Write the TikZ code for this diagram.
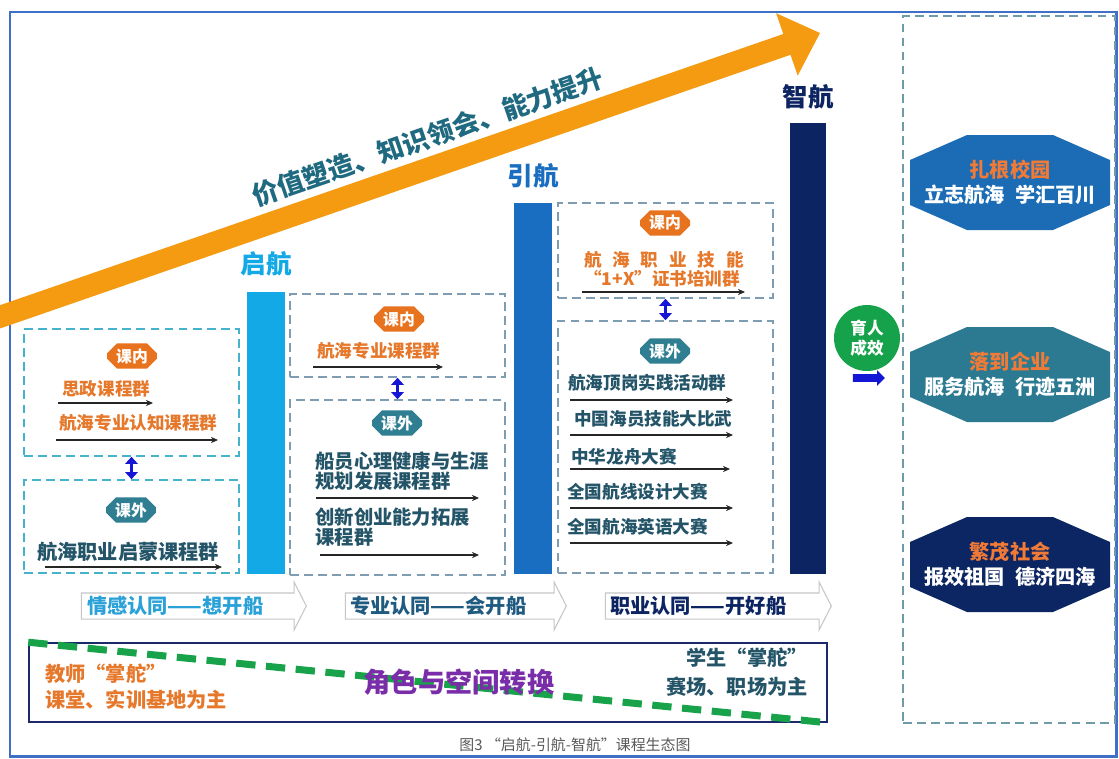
\documentclass[tikz,border=0pt]{standalone}
\usepackage{fontspec}
\setmainfont{Noto Sans CJK SC}
\usetikzlibrary{shapes.misc,shapes.arrows,fit,positioning,arrows.meta}

\definecolor{framblue}{HTML}{3F6FC6}
\definecolor{sailorange}{HTML}{F49B12}
\definecolor{tealtxt}{HTML}{1F6A80}
\definecolor{itemtxt}{HTML}{235468}
\definecolor{orangetxt}{HTML}{E5782B}
\definecolor{badgeor}{HTML}{E8731E}
\definecolor{badgeteal}{HTML}{2F7E92}
\definecolor{cyanbox}{HTML}{45B3CB}
\definecolor{graybox}{HTML}{7E9DB3}
\definecolor{panelbox}{HTML}{6F9AA8}
\definecolor{barone}{HTML}{12A9E6}
\definecolor{bartwo}{HTML}{1A6EC1}
\definecolor{barthree}{HTML}{0C2461}
\definecolor{navyline}{HTML}{1C2A6B}
\definecolor{dashgreen}{HTML}{18A34A}
\definecolor{rolepurple}{HTML}{7A2DA8}
\definecolor{octblue}{HTML}{1B6CB4}
\definecolor{octteal}{HTML}{2B7A92}
\definecolor{octnavy}{HTML}{0C2563}
\definecolor{octtitle}{HTML}{F07A36}
\definecolor{effgreen}{HTML}{16A24A}
\definecolor{pushblue}{HTML}{1515D6}
\definecolor{feeltxt}{HTML}{2AA2D8}
\definecolor{protxt}{HTML}{1F5A80}

\begin{document}
\begin{tikzpicture}[
  x=0.02cm, y=-0.02cm,
  every node/.style={inner sep=0pt, font=\bfseries},
  cbox/.style={draw=cyanbox, dash pattern=on 5pt off 3pt, line width=0.9pt},
  gbox/.style={draw=graybox, dash pattern=on 5pt off 3pt, line width=0.9pt},
  stagebar/.style={fill=#1, draw=none},
  stagelab/.style={font=\fontsize{14.5}{16}\selectfont\bfseries},
  badge/.style={chamfered rectangle, chamfered rectangle sep=0.1cm, minimum width=1cm,
    minimum height=0.44cm, fill=#1, text=white, font=\fontsize{9}{10}\selectfont\bfseries},
  item/.style={anchor=west, text=itemtxt, font=\fontsize{10}{12}\selectfont\bfseries},
  uline/.style={draw=black!85, line width=1pt, -{Stealth[length=4pt,width=3.5pt]}},
  twohead/.style={draw=pushblue, line width=2pt, {Triangle[length=4pt,width=7pt]}-{Triangle[length=4pt,width=7pt]}},
  stagearrow/.style={single arrow, draw=gray!45, fill=white, line width=0.6pt, inner ysep=0.25cm,
    inner xsep=0pt, single arrow head extend=0.22cm, single arrow tip angle=126, minimum height=#1},
  stagetxt/.style={anchor=west, font=\fontsize{11.5}{13}\selectfont\bfseries},
  octa/.style={fill=#1, draw=none},
  octlabel/.style={align=center, text=white, font=\fontsize{11.5}{14}\selectfont\bfseries}
]
\useasboundingbox (0,0) rectangle (1119,758);
\fill[white] (0,0) rectangle (1119,758);
\draw[framblue, line width=1.7pt] (10,12) rectangle (1116,756);

% rising arrow
\fill[sailorange] (-13.6,309.9) -- (783.3,34.0) -- (776.1,13.2) -- (820,33)
  -- (797.7,75.6) -- (790.5,54.8) -- (-6.4,330.7) -- cycle;
\node[rotate=19, text=tealtxt, font=\fontsize{15}{17}\selectfont\bfseries] (motto) at (428,137) {价值塑造、知识领会、能力提升};

% three stages
\node[stagebar=barone, fit={(247,292) (285,574)}] (qihang) {};
\node[stagebar=bartwo, fit={(514,203) (552,574)}] (yinhang) {};
\node[stagebar=barthree, fit={(790,123) (826,574)}] (zhihang) {};
\node[stagelab, text=barone, above=0.3cm of qihang] (qhlab) {启航};
\node[stagelab, text=bartwo, above=0.28cm of yinhang] (yhlab) {引航};
\node[stagelab, text=barthree, above=0.26cm of zhihang] (zhlab) {智航};

% stage 1
\node[cbox, fit={(24,329) (239,456)}] (inA) {};
\node[cbox, fit={(24,480) (239,573)}] (outA) {};
\draw[twohead] (inA.south) -- (outA.north);
\node[badge=badgeor] (inAb) at (132,356) {课内};
\node[item, text=orangetxt] (a1) at (62,389) {思政课程群};
\draw[uline] (58,403) -- (153,403);
\node[item, text=orangetxt] (a2) at (59,423) {航海专业认知课程群};
\draw[uline] (56,440) -- (218,440);
\node[badge=badgeteal] (outAb) at (131,510) {课外};
\node[item, font=\fontsize{11.5}{13}\selectfont\bfseries] (a3) at (37,552) {航海职业启蒙课程群};
\draw[uline] (45,567) -- (222,567);

% stage 2
\node[gbox, fit={(290,294) (505,377)}] (inB) {};
\node[gbox, fit={(290,400) (505,575)}] (outB) {};
\draw[twohead] (inB.south) -- (outB.north);
\node[badge=badgeor] (inBb) at (399,319) {课内};
\node[item, text=orangetxt] (b1) at (317,351) {航海专业课程群};
\draw[uline] (313,367) -- (443,367);
\node[badge=badgeteal] (outBb) at (397,423) {课外};
\node[item, align=left, font=\fontsize{11}{11.4}\selectfont\bfseries] (b2) at (315,471) {船员心理健康与生涯\\规划发展课程群};
\draw[uline] (316,498) -- (479,498);
\node[item, align=left, font=\fontsize{11}{11}\selectfont\bfseries] (b3) at (315,527) {创新创业能力拓展\\课程群};
\draw[uline] (320,555) -- (479,555);

% stage 3
\node[gbox, fit={(558,203) (773,298)}] (inC) {};
\node[gbox, fit={(558,321) (773,573)}] (outC) {};
\draw[twohead] (inC.south) -- (outC.north);
\node[badge=badgeor] (inCb) at (665,223) {课内};
\node[text=orangetxt, font=\fontsize{10}{12}\selectfont\bfseries] (c0) at (664,260)
  {\makebox[3.2cm][s]{航\hfil 海\hfil 职\hfil 业\hfil 技\hfil 能}};
\node[text=orangetxt, font=\fontsize{10}{12}\selectfont\bfseries] (c0b) at (662,279) {“1+X”证书培训群};
\draw[uline] (582,292) -- (745,292);
\node[badge=badgeteal] (outCb) at (665,351) {课外};
\node[item] (c1) at (568,383) {航海顶岗实践活动群};
\draw[uline] (570,400) -- (733,400);
\node[item] (c2) at (574,419) {中国海员技能大比武};
\draw[uline] (570,435) -- (733,435);
\node[item] (c3) at (571,457) {中华龙舟大赛};
\draw[uline] (570,469) -- (730,469);
\node[item] (c4) at (567,492) {全国航线设计大赛};
\draw[uline] (570,508) -- (733,508);
\node[item] (c5) at (567,527) {全国航海英语大赛};
\draw[uline] (570,543) -- (733,543);

% identity arrows
\node[stagearrow=4.5cm] (feel) at (190.5,606) {};
\node[stagetxt, text=feeltxt, right=0.12cm of feel.west] (feeltx) {情感认同——想开船};
\node[stagearrow=4.42cm] (pro) at (452.5,606) {};
\node[stagetxt, text=protxt, right=0.1cm of pro.west] (protx) {专业认同——会开船};
\node[stagearrow=4.52cm] (job) at (715,606) {};
\node[stagetxt, text=barthree, right=0.1cm of job.west] (jobtx) {职业认同——开好船};

% role change
\node[draw=navyline, line width=0.9pt, fit={(29,643) (827,722)}] (role) {};
\draw[dashgreen, line width=4pt, dash pattern=on 11pt off 6pt] (role.north west) -- (role.south east);
\node[anchor=west, align=left, text=orangetxt, font=\fontsize{11.5}{14.7}\selectfont\bfseries] (teacher) at (45,687) {教师“掌舵”\\课堂、实训基地为主};
\node[anchor=east, align=right, text=itemtxt, font=\fontsize{11.5}{16.4}\selectfont\bfseries] (student) at (808,672) {学生“掌舵”\\赛场、职场为主};
\node[text=rolepurple, font=\fontsize{15.5}{17}\selectfont\bfseries] (switch) at (459,682) {角色与空间转换};

% outcomes
\node[gbox, draw=panelbox, fit={(903,16) (1115,723)}] (panel) {};
\node[circle, fill=effgreen, minimum size=1.32cm, text=white, align=center,
  font=\fontsize{9.5}{11.5}\selectfont\bfseries] (eff) at (867,338) {育人\\成效};
\node[single arrow, fill=pushblue, inner ysep=0.07cm, inner xsep=0pt, single arrow head extend=0.08cm,
  minimum height=0.64cm] (push) at (867,378) {};
\fill[octa=octblue] (910,160) -- (967,135) -- (1053,135) -- (1110,160) -- (1110,205) -- (1053,230) -- (967,230) -- (910,205) -- cycle;
\node[octlabel] (campus) at (1010,182.5) {\textcolor{octtitle}{扎根校园}\\立志航海\hspace{0.5em}学汇百川};
\fill[octa=octteal] (910,352) -- (967,327) -- (1053,327) -- (1110,352) -- (1110,397) -- (1053,422) -- (967,422) -- (910,397) -- cycle;
\node[octlabel] (firm) at (1010,374.5) {\textcolor{octtitle}{落到企业}\\服务航海\hspace{0.5em}行迹五洲};
\fill[octa=octnavy] (910,542) -- (967,517) -- (1053,517) -- (1110,542) -- (1110,587) -- (1053,612) -- (967,612) -- (910,587) -- cycle;
\node[octlabel] (society) at (1010,564.5) {\textcolor{octtitle}{繁茂社会}\\报效祖国\hspace{0.5em}德济四海};

\node[text=black!65, font=\fontsize{8.5}{10}\selectfont] (caption) at (575,745) {图3\ “启航-引航-智航”课程生态图};
\end{tikzpicture}
\end{document}
